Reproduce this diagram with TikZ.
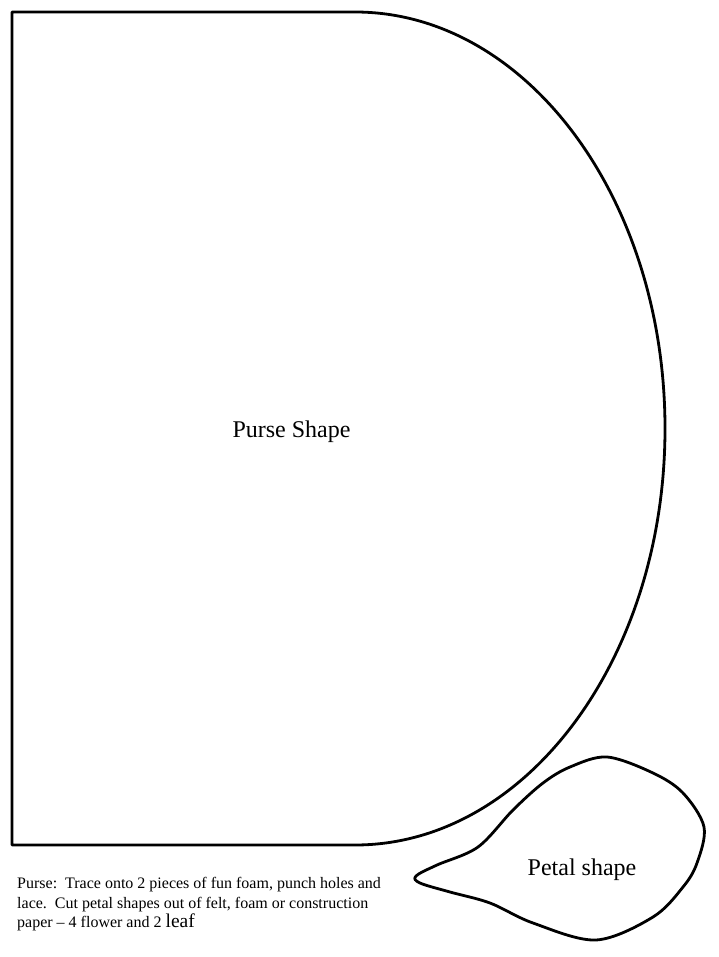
\documentclass[tikz,border=0pt]{standalone}
\usepackage{fontspec}
\setmainfont{Liberation Serif}
\begin{document}
\begin{tikzpicture}[x=1pt,y=1pt,
  outline/.style={line width=2.8pt,line join=round,line cap=round},
  biglabel/.style={font=\fontsize{24}{28}\selectfont,inner sep=0pt},
  notetext/.style={font=\fontsize{16}{19.5}\selectfont,inner sep=0pt,anchor=base west}]
\useasboundingbox (0,0) rectangle (718,-957);
% purse
\draw[outline] (12,-845) -- (12,-12) -- (355,-12)
   arc[start angle=90,end angle=-90,x radius=310pt,y radius=416.5pt] -- cycle;
\node[biglabel,anchor=base] (purselbl) at (291.5,-437) {Purse Shape};
% petal
\draw[outline] plot[smooth cycle,tension=0.55] coordinates {
 (416,-876) (437,-865) (478,-847) (513,-810) (543,-783) (570,-767) (607,-757)
 (653,-773) (683,-793) (704,-827) (697,-863) (683,-887) (653,-917) (596,-940)
 (533,-923) (490,-903) (450,-892) (420,-883)};
\node[biglabel,anchor=base] (petallbl) at (582,-875) {Petal shape};
% note
\node[notetext] (note1) at (17,-888) {Purse:\ \ Trace onto 2 pieces of fun foam, punch holes and};
\node[notetext] (note2) at (17,-908) {lace.\ \ Cut petal shapes out of felt, foam or construction};
\node[notetext] (note3) at (17,-927) {paper -- 4 flower and 2 {\fontsize{19.5}{19.5}\selectfont leaf}};
\end{tikzpicture}
\end{document}
